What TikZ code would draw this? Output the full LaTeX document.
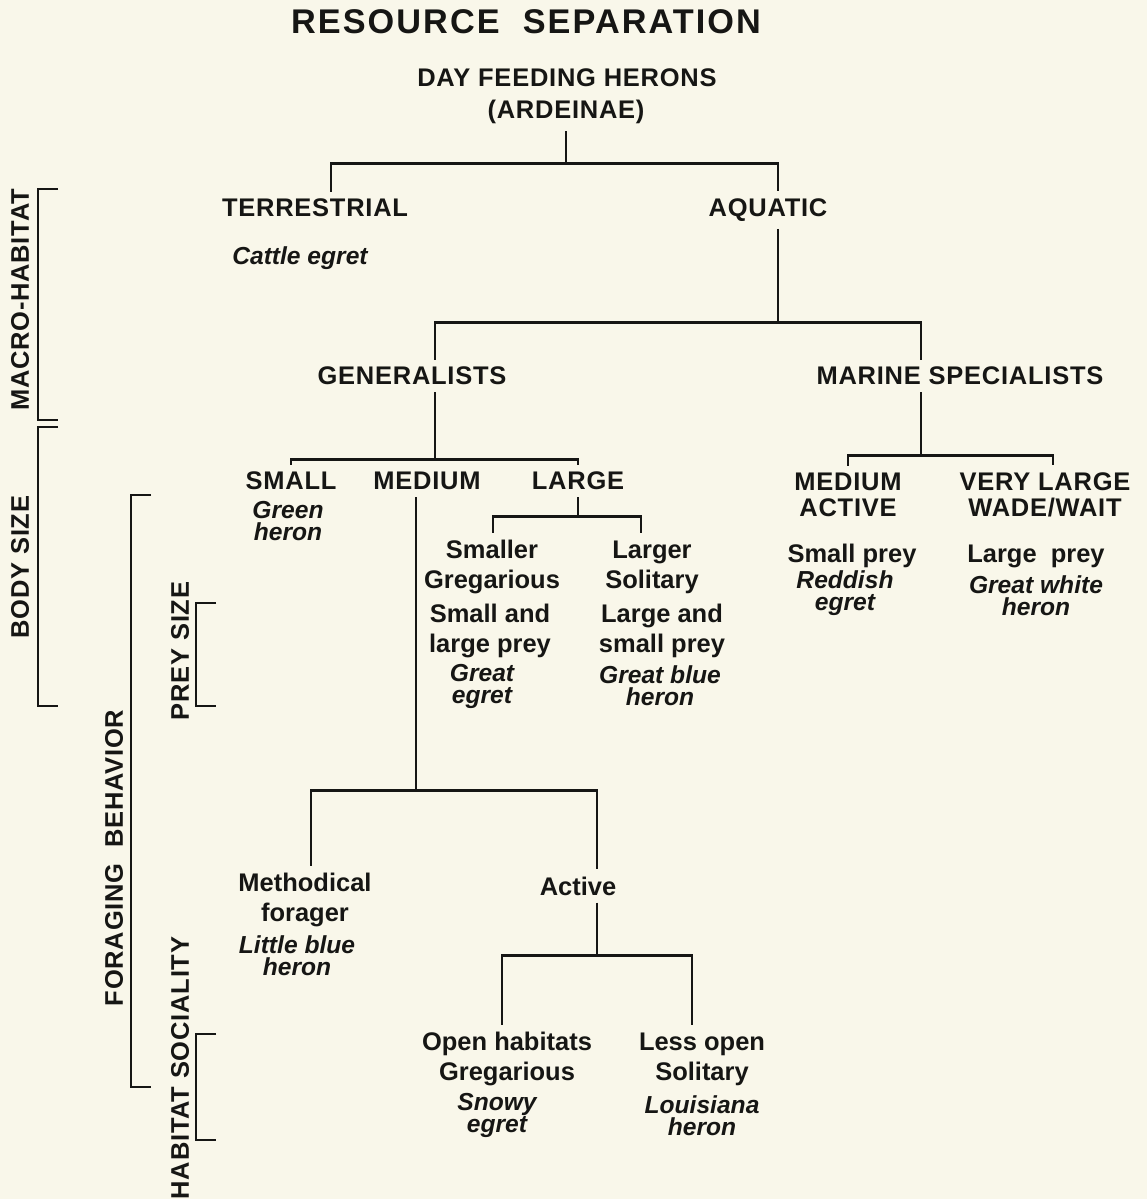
\documentclass[tikz,border=0pt]{standalone}
\usepackage{fontspec}
\setmainfont{Liberation Sans}
\usetikzlibrary{calc}
\definecolor{paper}{RGB}{249,247,234}
\definecolor{ink}{RGB}{22,22,20}

\begin{document}
\begin{tikzpicture}
[
x=0.02cm, y=-0.02cm,
every node/.style={text=ink, inner sep=4pt},
Title/.style={font=\fontsize{19.5}{24}\selectfont\bfseries\addfontfeature{LetterSpace=6}},
Caps/.style={font=\fontsize{14.5}{15}\selectfont\bfseries\addfontfeature{LetterSpace=3}, align=center},
Plain/.style={font=\fontsize{14.5}{17}\selectfont\bfseries, align=center},
Species/.style={font=\fontsize{14}{12.5}\selectfont\bfseries\itshape, align=center},
Axis/.style={font=\fontsize{14.5}{15}\selectfont\bfseries\addfontfeature{LetterSpace=3}, rotate=90},
Tree/.style={draw=ink, line width=1.6pt},
Bracket/.style={draw=ink, line width=1.6pt},
]

\fill[paper] (0,0) rectangle (1147,1199);
\useasboundingbox (0,0) rectangle (1147,1199);

% heading
\node [Title] (title) at (526,22) {RESOURCE\ \ SEPARATION};
\node [Caps] (dfh) at (567,78) {DAY FEEDING HERONS};
\node [Caps] (ard) at (566,112) {(ARDEINAE)};

% macro-habitat
\node [Caps] (terr) at (315,208) {TERRESTRIAL};
\node [Caps] (aq) at (768,210) {AQUATIC};
\node [Species] (cattle) at (300,258) {Cattle egret};

\node [Caps] (gen) at (412,376) {GENERALISTS};
\node [Caps] (marine) at (960,376) {MARINE SPECIALISTS};

% body size
\node [Caps] (small) at (291,481) {SMALL};
\node [Caps] (medium) at (427,481) {MEDIUM};
\node [Caps] (large) at (578,481) {LARGE};
\node [Species] (green) at (288,521) {Green\\heron};

\node [Plain] (smaller) at (492,567) {Smaller\\Gregarious};
\node [Plain] (smallprey) at (490,631) {Small and\\large prey};
\node [Species] (greategret) at (482,686) {Great\\egret};
\node [Plain] (larger) at (652,567) {Larger\\Solitary};
\node [Plain] (largeprey) at (662,631) {Large and\\small prey};
\node [Species] (gbh) at (660,686) {Great blue\\heron};

\node [Caps, font=\fontsize{14.5}{14.8}\selectfont\bfseries\addfontfeature{LetterSpace=3}] (medact) at (848,495) {MEDIUM\\ACTIVE};
\node [Caps, font=\fontsize{14.5}{14.8}\selectfont\bfseries\addfontfeature{LetterSpace=3}] (vlarge) at (1045,495) {VERY LARGE\\WADE/WAIT};
\node [Plain] (mprey) at (852,556) {Small prey};
\node [Species] (reddish) at (845,593) {Reddish\\egret};
\node [Plain] (lprey) at (1036,556) {Large\ \ prey};
\node [Species] (gwh) at (1036,596) {Great white\\heron};

% foraging behavior
\node [Plain] (method) at (305,900) {Methodical\\forager};
\node [Species] (lbh) at (297,956) {Little blue\\heron};
\node [Plain] (active) at (578,886) {Active};

\node [Plain] (open) at (507,1059) {Open habitats\\Gregarious};
\node [Species] (snowy) at (497,1115) {Snowy\\egret};
\node [Plain] (less) at (702,1059) {Less open\\Solitary};
\node [Species] (louis) at (702,1116) {Louisiana\\heron};

% forks
\coordinate (forkA) at ($(ard.south)+(0,32)$);
\coordinate (forkB) at ($(aq.south)+(10,94)$);
\coordinate (forkC) at ($(gen.south)+(23,67)$);
\coordinate (forkD) at ($(large.south)+(0,19)$);
\coordinate (forkE) at ($(marine.south)+(-39,63)$);
\coordinate (forkF) at ($(medium.south)+(-11,293)$);
\coordinate (forkG) at ($(active.south)+(19,53)$);

\draw[Tree] (ard.south) -- (forkA);
\draw[Tree] ($(terr.north)+(16,0)$) |- (forkA) -| ($(aq.north)+(10,0)$);

\draw[Tree] ($(aq.south)+(10,0)$) -- (forkB);
\draw[Tree] (forkB) -| ($(gen.north)+(23,0)$);
\draw[Tree] (forkB) -| ($(marine.north)+(-39,0)$);

\draw[Tree] ($(gen.south)+(23,0)$) -- (forkC);
\draw[Tree] (small.north) |- (forkC) -| (large.north);

\draw[Tree] (large.south) -- (forkD);
\draw[Tree] ($(smaller.north)+(1,0)$) |- (forkD) -| ($(larger.north)+(-11,0)$);

\draw[Tree] ($(marine.south)+(-39,0)$) -- (forkE);
\draw[Tree] (medact.north) |- (forkE) -| ($(vlarge.north)+(8,0)$);

\draw[Tree] ($(medium.south)+(-11,0)$) -- (forkF);
\draw[Tree] ($(method.north)+(6,0)$) |- (forkF) -| ($(active.north)+(19,0)$);

\draw[Tree] ($(active.south)+(19,0)$) -- (forkG);
\draw[Tree] ($(open.north)+(-5,0)$) |- (forkG) -| ($(less.north)+(-10,0)$);

% left brackets
\node [Axis] (macro) at (20,300) {MACRO-HABITAT};
\node [Axis] (body) at (20,567) {BODY SIZE};
\node [Axis] (forage) at (114,858) {FORAGING\ \ BEHAVIOR};
\node [Axis] (prey) at (180,651) {PREY SIZE};
\node [Axis] (social) at (180,1068) {HABITAT SOCIALITY};

\draw[Bracket] (58,189) -- (38,189) -- (38,420) -- (58,420);
\draw[Bracket] (58,427) -- (38,427) -- (38,706) -- (58,706);
\draw[Bracket] (151,495) -- (131,495) -- (131,1087) -- (151,1087);
\draw[Bracket] (216,603) -- (196,603) -- (196,706) -- (216,706);
\draw[Bracket] (216,1034) -- (196,1034) -- (196,1140) -- (216,1140);

\end{tikzpicture}
\end{document}
